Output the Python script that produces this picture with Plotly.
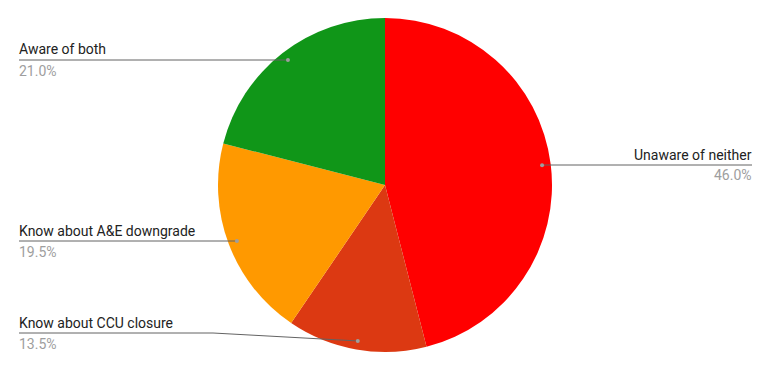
import math
import plotly.graph_objects as go

labels = ["Unaware of neither", "Know about CCU closure", "Know about A&E downgrade", "Aware of both"]
values = [46.0, 13.5, 19.5, 21.0]
colors = ["#ff0000", "#dc3912", "#ff9900", "#109618"]

W, H = 771, 371
CX, CY, R = 385, 185, 167

def px(x):
    return x / W

def py(y):
    return 1 - y / H

fig = go.Figure(go.Pie(
    labels=labels, values=values, sort=False, direction="clockwise", rotation=0,
    marker=dict(colors=colors, line=dict(width=0)),
    textinfo="none", hoverinfo="label+percent", showlegend=False,
    domain=dict(x=[px(CX - R), px(CX + R)], y=[py(CY + R), py(CY - R)]),
))

total = sum(values)
cum = 0
shapes = []
annotations = []
layout_spec = [
    dict(side="right", ly=165),
    dict(side="left", ly=333, bend=213),
    dict(side="left", ly=241),
    dict(side="left", ly=60),
]
for lab, val, spec in zip(labels, values, layout_spec):
    mid = (cum + val / 2) / total * 2 * math.pi
    cum += val
    rd = 0.948 * R
    dx = CX + rd * math.sin(mid)
    dy = CY - rd * math.cos(mid)
    ly = spec["ly"]
    if spec["side"] == "right":
        x_end = 752
        path = f"M {px(dx)} {py(dy)} L {px(dx)} {py(ly)} L {px(x_end)} {py(ly)}"
        xa, xanc = px(x_end + 2), "right"
    else:
        x_end = 19
        bend = spec.get("bend", dx)
        path = f"M {px(x_end)} {py(ly)} L {px(bend)} {py(ly)} L {px(dx)} {py(dy)}"
        xa, xanc = px(x_end - 2), "left"
    shapes.append(dict(type="path", xref="paper", yref="paper", path=path,
                       line=dict(color="#636363", width=1)))
    shapes.append(dict(type="circle", xref="paper", yref="paper",
                       x0=px(dx - 2), x1=px(dx + 2), y0=py(dy + 2), y1=py(dy - 2),
                       fillcolor="#9e9e9e", line=dict(color="#9e9e9e", width=0)))
    annotations.append(dict(text=lab, x=xa, y=py(ly - 0.5), xref="paper", yref="paper",
                            xanchor=xanc, yanchor="bottom", showarrow=False,
                            font=dict(family="Roboto", size=14, color="#222222")))
    annotations.append(dict(text=f"{val:.1f}%", x=xa, y=py(ly + 0.5), xref="paper", yref="paper",
                            xanchor=xanc, yanchor="top", showarrow=False,
                            font=dict(family="Roboto", size=14, color="#9e9e9e")))

fig.update_layout(
    width=W, height=H, margin=dict(l=0, r=0, t=0, b=0),
    paper_bgcolor="white", plot_bgcolor="white",
    shapes=shapes, annotations=annotations,
    font=dict(family="Roboto"),
)
fig.write_html("out.html")
